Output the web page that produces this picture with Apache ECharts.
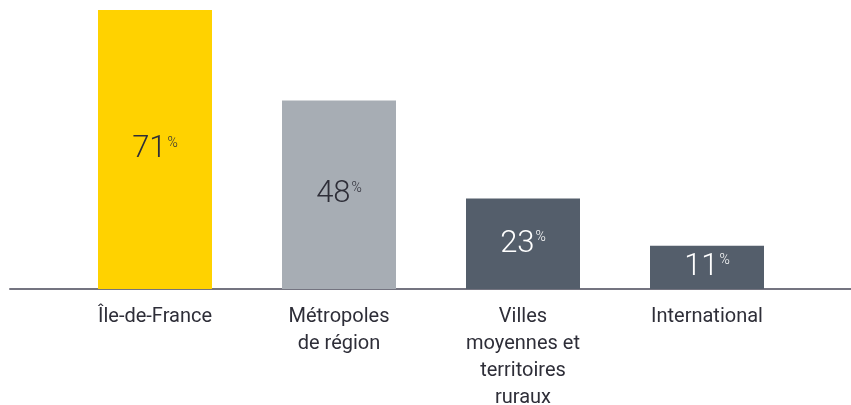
<!DOCTYPE html>
<html>
<head>
<meta charset="utf-8">
<script src="https://cdn.jsdelivr.net/npm/echarts@6/dist/echarts.min.js"></script>
<style>
  html, body { margin: 0; padding: 0; background: #ffffff; }
  #chart { width: 851px; height: 405px; }
</style>
</head>
<body>
<div id="chart"></div>
<script>
// Share by destination (percent)
const categories = ['Île-de-France', 'Métropoles\nde région', 'Villes\nmoyennes et\nterritoires\nruraux', 'International'];
const values = [71, 48, 23, 11];
const barColors = ['#FFD200', '#A7ADB4', '#545E6B', '#545E6B'];
const labelColors = ['#2E2E38', '#2E2E38', '#FFFFFF', '#FFFFFF'];

const FONT = 'Roboto, "Noto Sans", sans-serif';

const chart = echarts.init(document.getElementById('chart'), null, { renderer: 'canvas' });

const seriesData = values.map((v, i) => ({
  value: v,
  itemStyle: { color: barColors[i] },
  label: {
    show: true,
    position: 'inside',
    formatter: '{v|' + v + '}{p|%}',
    rich: {
      v: { fontSize: 31, fontFamily: FONT, fontWeight: 300, color: labelColors[i] },
      p: { fontSize: 14, fontFamily: FONT, fontWeight: 300, color: labelColors[i], padding: [0, 0, 13, 1] }
    }
  }
}));

chart.setOption({
  animation: false,
  grid: [
    { left: 63, width: 736, top: 10, bottom: 116, containLabel: false, outerBoundsMode: 'none' },
    { left: 10, right: 0, top: 10, bottom: 116, containLabel: false, outerBoundsMode: 'none' }
  ],
  xAxis: [
    {
      type: 'category',
      gridIndex: 0,
      data: categories,
      axisLine: { show: false },
      axisTick: { show: false },
      axisLabel: {
        color: '#2E2E38',
        fontFamily: FONT,
        fontSize: 20,
        lineHeight: 27,
        margin: 14,
        interval: 0
      }
    },
    {
      type: 'value',
      gridIndex: 1,
      min: 0,
      max: 1,
      axisLine: { show: true, lineStyle: { color: '#747480', width: 2 } },
      axisTick: { show: false },
      axisLabel: { show: false },
      splitLine: { show: false }
    }
  ],
  yAxis: [
    { type: 'value', gridIndex: 0, min: 0, max: 71, show: false },
    { type: 'value', gridIndex: 1, min: 0, max: 1, show: false }
  ],
  series: [
    {
      type: 'bar',
      xAxisIndex: 0,
      yAxisIndex: 0,
      data: seriesData,
      barWidth: 114,
      z: 1
    }
  ]
});
</script>
</body>
</html>
